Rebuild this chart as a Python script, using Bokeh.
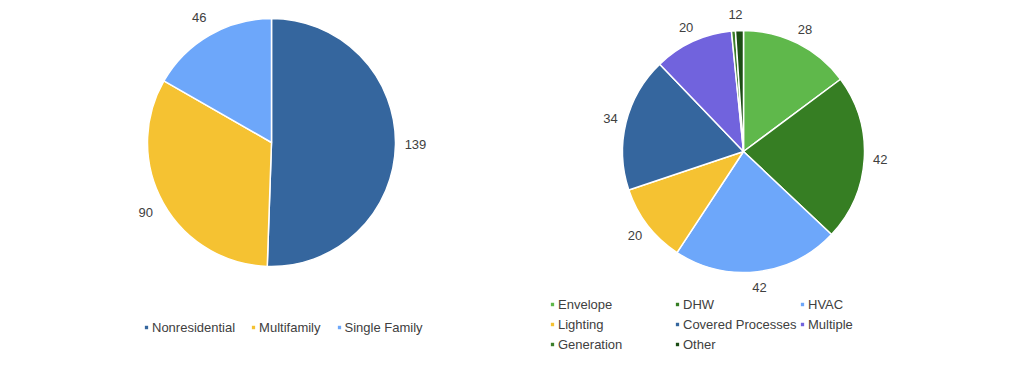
import numpy as np
from bokeh.plotting import figure
from bokeh.models import ColumnDataSource, Range1d, Legend, LegendItem
from bokeh.core.properties import value
from bokeh.embed import file_html
from bokeh.resources import INLINE

# ---- data ----
left_cats = ["Nonresidential", "Multifamily", "Single Family"]
left_vals = [139, 90, 46]
left_colors = ["#35669e", "#f5c232", "#6da7fa"]

right_cats = ["Envelope", "DHW", "HVAC", "Lighting", "Covered Processes",
              "Multiple", "Generation", "Other"]
right_vals = [28, 42, 42, 20, 34, 20, 1, 2]
right_colors = ["#5fb84b", "#367e23", "#6da7fa", "#f5c232", "#35669e",
                "#7163dd", "#3c7f2c", "#1c4d14"]

W, H = 1024, 365
FONT = "Liberation Sans"
TXT = "#404040"

p = figure(width=W, height=H, output_backend="svg", toolbar_location=None,
           x_range=Range1d(0, W), y_range=Range1d(0, H),
           min_border=0, outline_line_color=None)
p.axis.visible = False
p.grid.visible = False
p.background_fill_color = "white"


def pie(cats, vals, colors, cx, cy, r, lab_off):
    vals = np.array(vals, dtype=float)
    tot = vals.sum()
    cum = np.concatenate([[0], np.cumsum(vals)])
    start = np.pi / 2 - cum[:-1] / tot * 2 * np.pi
    end = np.pi / 2 - cum[1:] / tot * 2 * np.pi
    mid = (start + end) / 2
    src = ColumnDataSource(dict(cat=cats, val=vals, start=start, end=end,
                                color=colors,
                                lx=cx + (r + lab_off) * np.cos(mid),
                                ly=cy + (r + lab_off) * np.sin(mid),
                                lab=[str(int(v)) for v in vals]))
    renderers = []
    for i in range(len(cats)):
        view_src = ColumnDataSource({k: [src.data[k][i]] for k in src.data})
        rr = p.wedge(x=cx, y=cy, radius=r, start_angle="start", end_angle="end",
                     direction="clock", fill_color="color", line_color="white",
                     line_width=1.5, source=view_src)
        renderers.append(rr)
    p.text(x="lx", y="ly", text="lab", source=src, text_align="center",
           text_baseline="middle", text_font=value(FONT),
           text_font_size="13px", text_color=TXT)
    return renderers


# centres in page pixels (y measured from the bottom)
lr = pie(left_cats, left_vals, left_colors, 271, H - 142, 124, 20)
rr = pie(right_cats, right_vals, right_colors, 743, H - 151, 121, 16)

leg_l = Legend(items=[LegendItem(label=c, renderers=[r]) for c, r in zip(left_cats, lr)],
               orientation="horizontal", location=(143, 29),
               glyph_width=6, glyph_height=6, label_standoff=3, spacing=15,
               label_text_font=FONT, label_text_font_size="13px",
               label_text_color=TXT, label_height=18, padding=0, margin=0,
               border_line_alpha=0, background_fill_alpha=0)
leg_r = Legend(items=[LegendItem(label=c, renderers=[r]) for c, r in zip(right_cats, rr)],
               orientation="horizontal", ncols=3, location=(549, 11),
               glyph_width=6, glyph_height=6, label_standoff=3, spacing=0,
               label_width=116,
               label_text_font=FONT, label_text_font_size="13px",
               label_text_color=TXT, label_height=20, padding=0, margin=0,
               border_line_alpha=0, background_fill_alpha=0)
p.add_layout(leg_l)
p.add_layout(leg_r)

open("out.html", "w").write(file_html(p, INLINE))
